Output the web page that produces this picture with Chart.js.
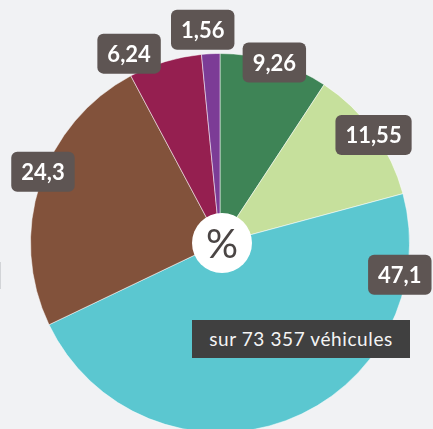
<!DOCTYPE html>
<html>
<head>
<meta charset="utf-8">
<script src="https://cdn.jsdelivr.net/npm/chart.js@4.4.1/dist/chart.umd.min.js"></script>
<style>
  html, body { margin: 0; padding: 0; background: #f1f2f4; overflow: hidden; }
  #wrap { position: relative; width: 433px; height: 429px; overflow: hidden; }
  #pie { position: absolute; left: 0; top: 0; }
  .edge { position: absolute; left: 0; top: 262px; width: 1px; height: 27px; background: #d2d4d7; }
  .caption {
    position: absolute; left: 192px; top: 320px; width: 218px; height: 38px;
    background: #404040; color: #f4f4f4; font: 19px Lato, "Open Sans", sans-serif;
    line-height: 38px; text-align: center; letter-spacing: 0.6px;
  }
</style>
</head>
<body>
<div id="wrap">
  <canvas id="pie" width="433" height="440"></canvas>
  <div class="edge"></div>
  <div class="caption">sur 73 357 véhicules</div>
</div>
<script>
// ---------- données ----------
const categories = ['A', 'B', 'C', 'D', 'E', 'F'];
const values = [9.26, 11.55, 47.1, 24.3, 6.24, 1.56];
const valueLabels = ['9,26', '11,55', '47,1', '24,3', '6,24', '1,56'];
const colors = ['#3e8456', '#c6e09c', '#5bc7d0', '#82523b', '#951f50', '#7c3c96'];

// décalage des étiquettes pour éviter les chevauchements / sortir du cadre
const labelShift = [
  [0, 1],
  [0, 3],
  [114, -146],
  [3, -12],
  [-36, -8],
  [-8, -24],
];

function roundRect(ctx, x, y, w, h, r) {
  ctx.beginPath();
  ctx.moveTo(x + r, y);
  ctx.arcTo(x + w, y, x + w, y + h, r);
  ctx.arcTo(x + w, y + h, x, y + h, r);
  ctx.arcTo(x, y + h, x, y, r);
  ctx.arcTo(x, y, x + w, y, r);
  ctx.closePath();
}

// étiquettes + rond central "%"
const pieLabels = {
  id: 'pieLabels',
  afterDraw(chart) {
    const ctx = chart.ctx;
    const meta = chart.getDatasetMeta(0);
    ctx.save();
    ctx.font = 'bold 22px Lato, "Open Sans", sans-serif';
    ctx.textAlign = 'center';
    ctx.textBaseline = 'middle';
    meta.data.forEach((arc, i) => {
      const p = arc.getProps(['x', 'y', 'startAngle', 'endAngle', 'outerRadius']);
      const mid = (p.startAngle + p.endAngle) / 2;
      const x = p.x + Math.cos(mid) * p.outerRadius + labelShift[i][0];
      const y = p.y + Math.sin(mid) * p.outerRadius + labelShift[i][1];
      const w = ctx.measureText(valueLabels[i]).width + 20;
      const h = 40;
      ctx.fillStyle = '#5e5553';
      roundRect(ctx, x - w / 2, y - h / 2, w, h, 6);
      ctx.fill();
      ctx.fillStyle = '#ffffff';
      ctx.fillText(valueLabels[i], x, y + 1);
    });

    // rond blanc au centre
    const c = meta.data[0];
    ctx.beginPath();
    ctx.arc(c.x + 2, c.y, 30, 0, Math.PI * 2);
    ctx.fillStyle = '#ffffff';
    ctx.fill();
    ctx.fillStyle = '#4a4544';
    ctx.font = '40px Lato, "Open Sans", sans-serif';
    ctx.fillText('%', c.x + 2, c.y + 2);
    ctx.restore();
  },
};

new Chart(document.getElementById('pie'), {
  type: 'pie',
  data: {
    labels: categories,
    datasets: [
      {
        data: values,
        backgroundColor: colors,
        borderColor: 'rgba(255,255,255,0.5)',
        borderWidth: 1,
      },
    ],
  },
  options: {
    responsive: false,
    animation: false,
    layout: { padding: { left: 30, top: 53, right: 23, bottom: 7 } },
    plugins: {
      legend: { display: false },
      tooltip: { enabled: false },
    },
  },
  plugins: [pieLabels],
});
</script>
</body>
</html>
